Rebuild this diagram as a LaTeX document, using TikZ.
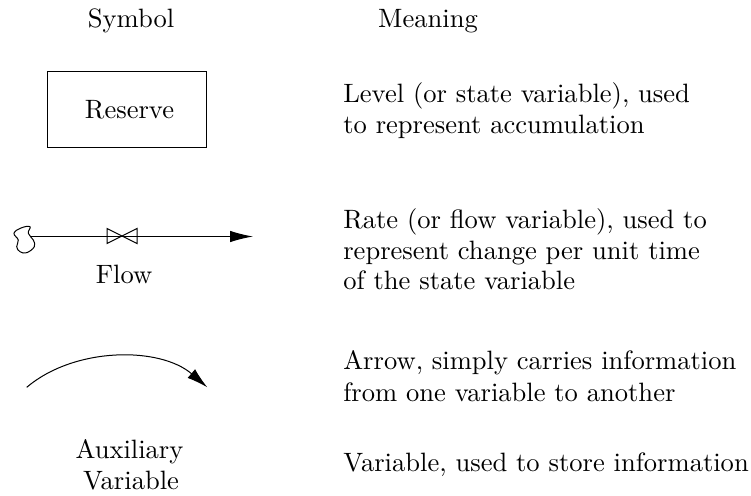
\documentclass[tikz,border=0pt]{standalone}
\usetikzlibrary{arrows.meta}
\tikzset{lab/.style={inner sep=0pt,anchor=base west,scale=2.655},
clab/.style={inner sep=0pt,anchor=base,scale=2.655},
tip/.style={-{Latex[length=23pt,width=11.5pt]}}}
\begin{document}
\begin{tikzpicture}[x=1pt,y=-1pt,line width=1pt]
\useasboundingbox (0,0) rectangle (751,495);
\node[clab] (sym) at (131,28) {Symbol};
\node[clab] (mean) at (428,28) {Meaning};
\node[draw,minimum width=159pt,minimum height=76pt,inner sep=0pt] (box) at (126.5,109) {};
\node[clab] (res) at (129.5,118) {Reserve};
\node[lab] (m1a) at (342,102) {Level (or state variable), used};
\node[lab] (m1b) at (342,133) {to represent accumulation};
\coordinate (cl) at (30,236.5);
\coordinate (fe) at (253,236.5);
\draw[tip] (cl) -- (fe);
\draw (107,228.5) -- (137,243.5) -- (137,228.5) -- (107,243.5) -- cycle;
\draw plot[smooth cycle,tension=0.7] coordinates {(30,226.7) (21,228) (14,233.3) (18.3,240) (16.7,246.7) (20,251.7) (26.7,252.7) (34.3,246.7) (33.3,240) (28.3,233.3)};
\node[clab] (flow) at (124,283) {Flow};
\node[lab] (m2a) at (342,228) {Rate (or flow variable), used to};
\node[lab] (m2b) at (342,259) {represent change per unit time};
\node[lab] (m2c) at (342,289) {of the state variable};
\coordinate (a1) at (26.7,387.3);
\coordinate (a2) at (207.3,387.3);
\draw[-{Latex[length=21pt,width=11.5pt]}] (a1) .. controls (75,346.5) and (160,346.5) .. (a2);
\node[clab] (aux1) at (129.5,458) {Auxiliary};
\node[clab] (aux2) at (131,489) {Variable};
\node[lab] (m3a) at (342,369) {Arrow, simply carries information};
\node[lab] (m3b) at (342,401) {from one variable to another};
\node[lab] (m4) at (342,471) {Variable, used to store information};
\end{tikzpicture}
\end{document}
